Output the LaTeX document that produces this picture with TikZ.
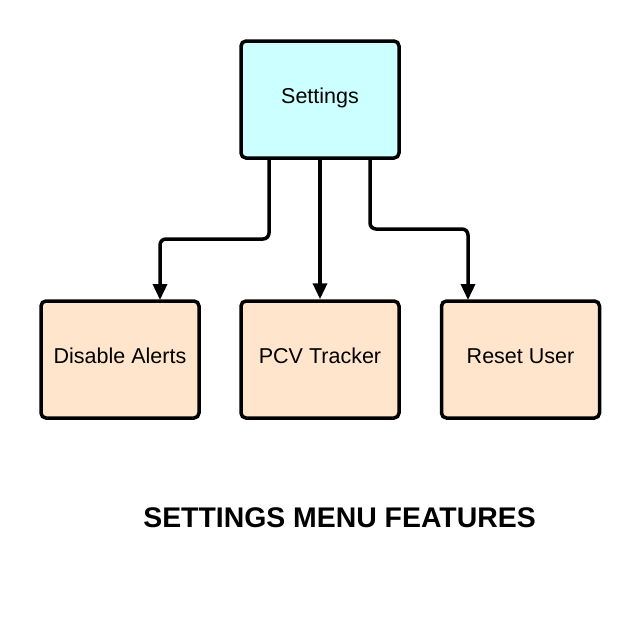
\documentclass[tikz,border=0pt]{standalone}
\usepackage{fontspec}
\setmainfont{Liberation Sans}
\usetikzlibrary{arrows.meta}
\definecolor{topfill}{HTML}{CCFFFF}
\definecolor{leaffill}{HTML}{FFE5CC}
\tikzset{
  box/.style={draw=black, line width=3.5pt, rounded corners=5pt, minimum width=158pt, minimum height=117pt, inner sep=0pt, text height=15pt, text depth=8pt, font=\fontsize{21.5}{26}\selectfont},
  topbox/.style={box, fill=topfill},
  leafbox/.style={box, fill=leaffill},
  conn/.style={draw=black, line width=3.5pt, rounded corners=6pt, -{Triangle[length=16pt,width=14pt]}}
}
\begin{document}
\begin{tikzpicture}[x=1pt,y=-1pt]
\useasboundingbox (0,0) rectangle (640,625);
\node[topbox] (settings) at (320,99.5) {Settings};
\node[leafbox] (alerts) at (120,359.5) {Disable Alerts};
\node[leafbox] (pcv) at (320,359.5) {PCV Tracker};
\node[leafbox] (reset) at (520.5,359.5) {Reset User};
\coordinate (s1) at (269,159);
\coordinate (s3) at (370,159);
\draw[conn] (s1) -- (269,239) -- (160,239) -- (160,300);
\draw[conn] (settings.south) -- (pcv.north);
\draw[conn] (s3) -- (370,229) -- (468,229) -- (468,300);
\node[font=\bfseries\fontsize{28.4}{34}\selectfont] (title) at (339.5,518) {SETTINGS MENU FEATURES};
\end{tikzpicture}
\end{document}
